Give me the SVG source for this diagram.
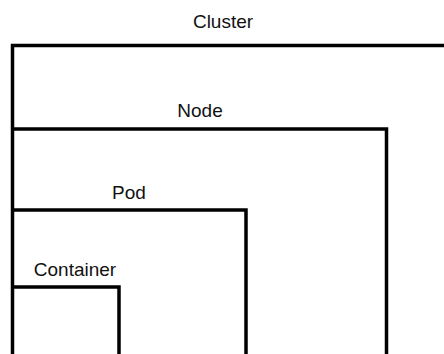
<svg xmlns="http://www.w3.org/2000/svg" width="444" height="354" viewBox="0 0 444 354">
<style>
.box{fill:none;stroke:#000;stroke-width:3.5;stroke-linejoin:miter;stroke-linecap:butt}
.lbl{font-family:"Liberation Sans",Arial,sans-serif;font-size:19px;fill:#111;text-anchor:middle}
</style>
<rect width="444" height="354" fill="#fff"/>
<g id="cluster">
<path class="box" d="M12.5,356 V45.5 H446"/>
<text class="lbl" x="223" y="27.5">Cluster</text>
</g>
<g id="node">
<path class="box" d="M12.5,129 H386.5 V356"/>
<text class="lbl" x="200" y="117">Node</text>
</g>
<g id="pod">
<path class="box" d="M12.5,210 H246 V356"/>
<text class="lbl" x="129" y="199">Pod</text>
</g>
<g id="container">
<path class="box" d="M12.5,287 H119 V356"/>
<text class="lbl" x="75" y="276">Container</text>
</g>
<g id="connectors"></g>
</svg>
